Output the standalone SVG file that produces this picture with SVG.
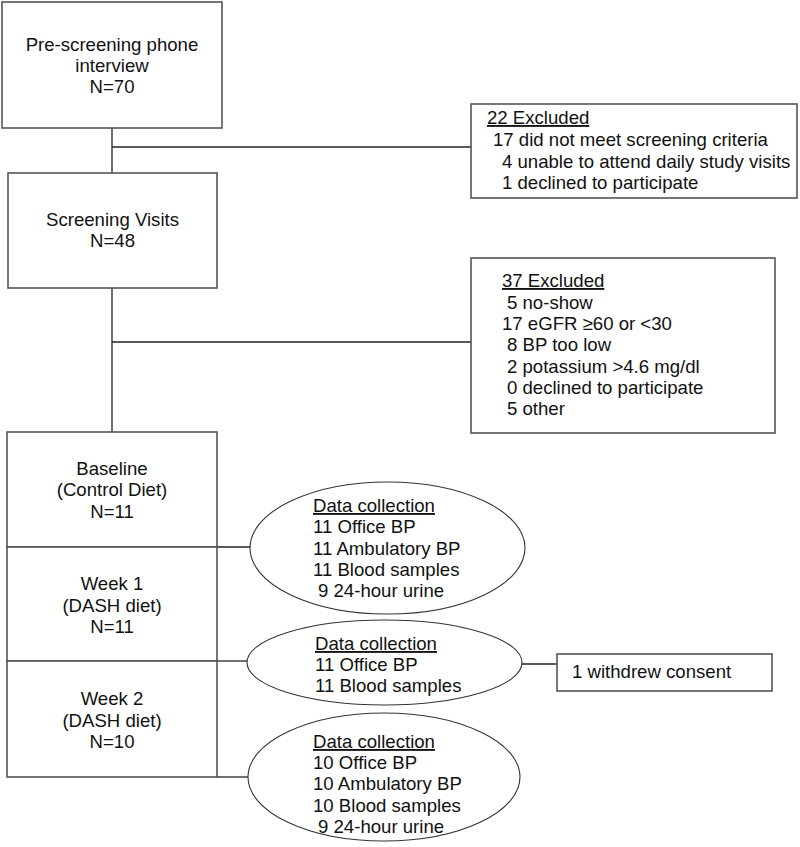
<svg xmlns="http://www.w3.org/2000/svg" width="800" height="847" viewBox="0 0 800 847">
<style>
.box{fill:#fff;stroke:#555;stroke-width:1.6}
.ell{fill:#fff;stroke:#333;stroke-width:1.1}
.ln{stroke:#222;stroke-width:1.3;fill:none}
text{font-family:"Liberation Sans",Arial,sans-serif;font-size:18.6px;fill:#111}
.c{text-anchor:middle}
.u{text-decoration:underline}
</style>
<rect width="800" height="847" fill="#fff"/>
<g id="connectors">
<line class="ln" x1="112" y1="128" x2="112" y2="173"/>
<line class="ln" x1="112" y1="147" x2="471" y2="147"/>
<line class="ln" x1="112" y1="288" x2="112" y2="432"/>
<line class="ln" x1="112" y1="342" x2="471" y2="342"/>
<line class="ln" x1="217" y1="547" x2="250" y2="547"/>
<line class="ln" x1="217" y1="661" x2="248" y2="661"/>
<line class="ln" x1="217" y1="777" x2="248" y2="777"/>
<line class="ln" x1="522" y1="664" x2="557" y2="664"/>
</g>
<g id="prescreen">
<rect class="box" x="2" y="2" width="220" height="126"/>
<text class="c" x="112" y="51">Pre-screening phone</text>
<text class="c" x="112" y="72">interview</text>
<text class="c" x="112" y="93">N=70</text>
</g>
<g id="excluded1">
<rect class="box" x="471" y="104" width="326" height="94"/>
<text class="u" x="487" y="124">22 Excluded</text>
<text x="493" y="146">17 did not meet screening criteria</text>
<text x="502" y="168">4 unable to attend daily study visits</text>
<text x="502" y="189">1 declined to participate</text>
</g>
<g id="screening">
<rect class="box" x="8" y="173" width="209" height="115"/>
<text class="c" x="112.5" y="226">Screening Visits</text>
<text class="c" x="112.5" y="247">N=48</text>
</g>
<g id="excluded2">
<rect class="box" x="471" y="258" width="304" height="175"/>
<text class="u" x="502" y="287">37 Excluded</text>
<text x="507" y="309">5 no-show</text>
<text x="502" y="330">17 eGFR ≥60 or &lt;30</text>
<text x="507" y="351">8 BP too low</text>
<text x="507" y="373">2 potassium &gt;4.6 mg/dl</text>
<text x="507" y="394">0 declined to participate</text>
<text x="507" y="415">5 other</text>
</g>
<g id="baseline">
<rect class="box" x="7" y="432" width="210" height="115"/>
<text class="c" x="112" y="475">Baseline</text>
<text class="c" x="112" y="496">(Control Diet)</text>
<text class="c" x="112" y="518">N=11</text>
</g>
<g id="week1">
<rect class="box" x="7" y="547" width="210" height="114"/>
<text class="c" x="112" y="590">Week 1</text>
<text class="c" x="112" y="612">(DASH diet)</text>
<text class="c" x="112" y="633">N=11</text>
</g>
<g id="week2">
<rect class="box" x="7" y="661" width="210" height="116"/>
<text class="c" x="112" y="705">Week 2</text>
<text class="c" x="112" y="727">(DASH diet)</text>
<text class="c" x="112" y="748">N=10</text>
</g>
<g id="data1">
<ellipse class="ell" cx="387.5" cy="548" rx="137.5" ry="66"/>
<text class="u" x="313" y="512">Data collection</text>
<text x="313" y="533">11 Office BP</text>
<text x="313" y="555">11 Ambulatory BP</text>
<text x="313" y="576">11 Blood samples</text>
<text x="318" y="597">9 24-hour urine</text>
</g>
<g id="data2">
<ellipse class="ell" cx="384.5" cy="662.5" rx="137.5" ry="42.5"/>
<text class="u" x="315" y="650">Data collection</text>
<text x="315" y="671">11 Office BP</text>
<text x="315" y="692">11 Blood samples</text>
</g>
<g id="withdrew">
<rect class="box" x="557" y="654" width="215" height="37"/>
<text x="572" y="678">1 withdrew consent</text>
</g>
<g id="data3">
<ellipse class="ell" cx="384" cy="777" rx="136" ry="64"/>
<text class="u" x="313" y="748">Data collection</text>
<text x="313" y="769">10 Office BP</text>
<text x="313" y="790">10 Ambulatory BP</text>
<text x="313" y="812">10 Blood samples</text>
<text x="318" y="833">9 24-hour urine</text>
</g>
</svg>
